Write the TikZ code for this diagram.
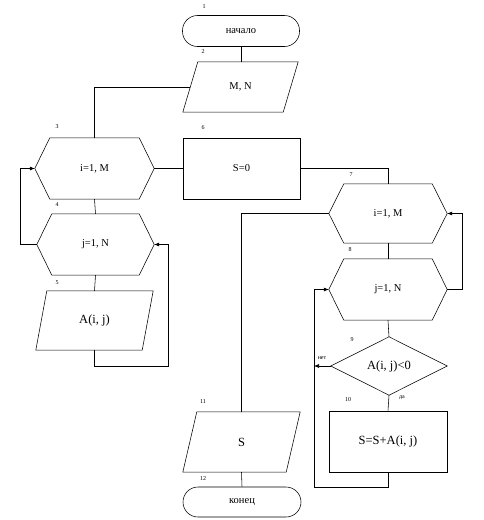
\documentclass[tikz,border=0pt]{standalone}
\usepackage{fontspec}
\setmainfont{Liberation Serif}
\usetikzlibrary{arrows.meta}
\newcommand\hexoutline[1]{\draw[lineb] (#1.west) -- ([xshift=15pt]#1.north west) -- ([xshift=-15pt]#1.north east) -- (#1.east) -- ([xshift=-15pt]#1.south east) -- ([xshift=15pt]#1.south west) -- cycle;}
\newcommand\paraoutline[2]{\draw[lineb] ([xshift=#2]#1.north west) -- (#1.north east) -- ([xshift=-#2]#1.south east) -- (#1.south west) -- cycle;}
\newcommand\diaoutline[1]{\draw[lineb] (#1.north) -- (#1.east) -- (#1.south) -- (#1.west) -- cycle;}
\begin{document}
\begin{tikzpicture}[x=1pt,y=-1pt,
  lineb/.style={line width=0.55pt, draw=black},
  box/.style={inner sep=0pt, minimum width=#1},
  conn/.style={lineb},
  arr/.style={lineb, -{Latex[length=5pt,width=4pt]}},
  num/.style={font=\fontsize{6}{7}\selectfont, inner sep=0pt},
  txt/.style={font=\fontsize{10.5}{12}\selectfont},
  btxt/.style={font=\fontsize{12.5}{14}\selectfont}]
\useasboundingbox (0,0) rectangle (484,520);
% nodes
\node[box=117pt, minimum height=31pt, draw, lineb, rounded corners=15pt, txt] (t1) at (241,31) {начало};
\node[box=115pt, minimum height=50pt, txt] (p2) at (240.5,87) {M, N};
\paraoutline{p2}{15pt}
\node[box=119pt, minimum height=61pt, txt] (h3) at (94.5,168.5) {i=1, M};
\hexoutline{h3}
\node[box=117pt, minimum height=61pt, txt] (h4) at (95.5,244.5) {j=1, N};
\hexoutline{h4}
\node[box=117pt, minimum height=59pt, btxt] (p5) at (94.5,320.5) {A(i, j)};
\paraoutline{p5}{11pt}
\node[box=117pt, minimum height=61pt, draw, lineb, txt] (r6) at (241.5,168.5) {S=0};
\node[box=118pt, minimum height=59pt, txt] (h7) at (388,213.5) {i=1, M};
\hexoutline{h7}
\node[box=118pt, minimum height=61pt, txt] (h8) at (388,289.5) {j=1, N};
\hexoutline{h8}
\node[box=116pt, minimum height=58pt, btxt] (d9) at (389,366) {A(i, j)<0};
\diaoutline{d9}
\node[box=118pt, minimum height=61pt, draw, lineb, btxt] (r10) at (388,441.5) {S=S+A(i, j)};
\node[box=117pt, minimum height=60pt, btxt] (p11) at (241.5,442) {S};
\paraoutline{p11}{14pt}
\node[box=118pt, minimum height=30pt, draw, lineb, rounded corners=15pt, txt] (t12) at (242,502) {конец};
% coordinates
\coordinate (c1) at (168,366);
\coordinate (c2) at (20,244.5);
\coordinate (c4) at (314,487);
\coordinate (c5) at (462,289.5);
% connectors
\draw[conn] (t1.south) -- (p2.north -| t1.south);
\draw[conn] ([xshift=7.5pt]p2.west) -| (h3.north);
\draw[conn] (h3.south) -- (h4.north);
\draw[conn] (h4.south) -- (p5.north);
\draw[arr] (p5.south) |- (c1) |- (h4.east);
\draw[arr] (h4.west) -- (c2) |- (h3.west);
\draw[conn] (h3.east) -- (r6.west);
\draw[conn] (r6.east) -| (h7.north);
\draw[conn] (h7.south) -- (h8.north);
\draw[conn] (h8.south) -- (d9.north);
\draw[conn] (d9.south) -- (r10.north);
\draw[arr] (r10.south) |- (c4) |- (h8.west);
\draw[arr] (d9.west) -- (d9.west -| c4);
\draw[conn] (h7.west) -| (p11.north);
\draw[arr] (h8.east) -- (c5) |- (h7.east);
\draw[conn] (p11.south) -- (t12.north);
% labels
\node[num] (n1) at (204,7) {1};
\node[num] (n2) at (203,52) {2};
\node[num] (n3) at (57,127) {3};
\node[num] (n4) at (57,205) {4};
\node[num] (n5) at (57,283) {5};
\node[num] (n6) at (203,128) {6};
\node[num] (n7) at (351,175) {7};
\node[num] (n8) at (350,250) {8};
\node[num] (n9) at (352,340) {9};
\node[num] (n10) at (348,400) {10};
\node[num] (n11) at (203,402) {11};
\node[num] (n12) at (203,479) {12};
\node[num] (no) at (322,358) {нет};
\node[num] (yes) at (402,398) {да};
\end{tikzpicture}
\end{document}
